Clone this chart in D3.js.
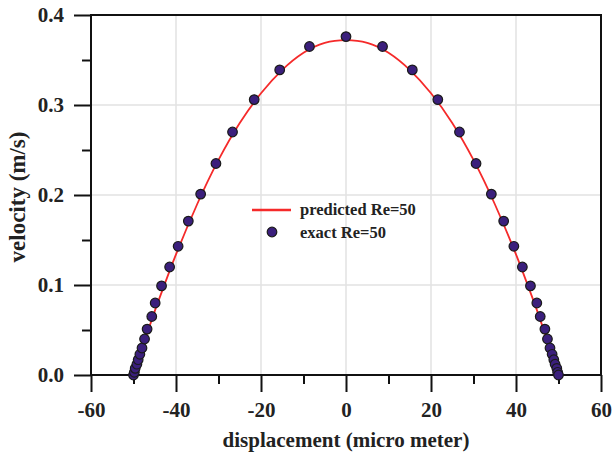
<!DOCTYPE html>
<html><head><meta charset="utf-8">
<script src="https://cdn.jsdelivr.net/npm/d3@7"></script>
<style>body{margin:0;background:#fff}svg{display:block}text{font-family:"Liberation Serif","Times New Roman",serif;font-weight:bold;fill:#222}</style>
</head><body><svg id="c" width="614" height="454"></svg>
<script>
// exact (symbols) data
const exactX = [-50,-49.8,-49.6,-49.2,-48.9,-48.5,-48.0,-47.4,-46.8,-45.7,-44.9,-43.4,-41.5,-39.5,-37.1,-34.2,-30.6,-26.7,-21.6,-15.6,-8.6,0,
                 8.6,15.6,21.6,26.7,30.6,34.2,37.1,39.5,41.5,43.4,44.9,45.7,46.8,47.4,48.0,48.5,48.9,49.2,49.6,49.8,50];
const exactV = [0,0.003,0.0074,0.012,0.017,0.023,0.030,0.040,0.051,0.065,0.080,0.099,0.120,0.143,0.171,0.201,0.235,0.270,0.306,0.339,0.365,0.376,
                 0.365,0.339,0.306,0.270,0.235,0.201,0.171,0.143,0.120,0.099,0.080,0.065,0.051,0.040,0.030,0.023,0.017,0.012,0.0074,0.003,0];
// predicted (line) data
const predX = [-50,-47.5,-45,-42.5,-40,-35,-30,-25,-20,-15,-10,-5,0,5,10,15,20,25,30,35,40,42.5,45,47.5,50];
const predV = [0,0.036,0.071,0.103,0.134,0.190,0.239,0.280,0.313,0.339,0.358,0.369,0.372,0.369,0.358,0.339,0.313,0.280,0.239,0.190,0.134,0.103,0.071,0.036,0];
const xTicks = [-60,-40,-20,0,20,40,60];
const yTicks = [0.0,0.1,0.2,0.3,0.4];
const xMinor = [-50,-30,-10,10,30,50];
const yMinor = [0.05,0.15,0.25,0.35];
const seriesNames = ["predicted Re=50","exact Re=50"];
const xTitle = "displacement (micro meter)";
const yTitle = "velocity (m/s)";

const L=91,R=601,T=15,B=375;
const svg=d3.select("#c");
const x=d3.scaleLinear().domain([-60,60]).range([L,R]);
const y=d3.scaleLinear().domain([0,0.4]).range([B,T]);

// grid
const g=svg.append("g");
g.selectAll("line.gx").data(xTicks.slice(1,-1)).join("line")
 .attr("x1",d=>x(d)).attr("x2",d=>x(d)).attr("y1",T).attr("y2",B)
 .attr("stroke","#e2e2e2").attr("stroke-width",1.5);
g.selectAll("line.gy").data(yTicks.slice(1,-1)).join("line")
 .attr("x1",L).attr("x2",R).attr("y1",d=>y(d)).attr("y2",d=>y(d))
 .attr("stroke","#e2e2e2").attr("stroke-width",1.5);

// axes
svg.append("g").attr("transform",`translate(0,${B})`)
 .call(d3.axisBottom(x).tickValues(xTicks).tickSize(17).tickPadding(10).tickFormat(d=>String(d)));
svg.append("g").attr("transform",`translate(0,${B})`)
 .call(d3.axisBottom(x).tickValues(xMinor).tickSize(9).tickFormat(""));
svg.append("g").attr("transform",`translate(${L},0)`)
 .call(d3.axisLeft(y).tickValues(yTicks).tickSize(17).tickPadding(10).tickFormat(d3.format(".1f")));
svg.append("g").attr("transform",`translate(${L},0)`)
 .call(d3.axisLeft(y).tickValues(yMinor).tickSize(9).tickFormat(""));
svg.selectAll(".domain").remove();
svg.selectAll(".tick line").attr("stroke","#111").attr("stroke-width",2);
svg.selectAll(".tick text").style("font-size","21px").attr("fill","#222");

// frame
svg.append("rect").attr("x",L).attr("y",T).attr("width",R-L).attr("height",B-T)
 .attr("fill","none").attr("stroke","#111").attr("stroke-width",2);

// line
const pts=predX.map((d,i)=>[d,predV[i]]);
svg.append("path").datum(pts)
 .attr("d",d3.line().x(d=>x(d[0])).y(d=>y(d[1])).curve(d3.curveNatural))
 .attr("fill","none").attr("stroke","#f52a2a").attr("stroke-width",1.8);

// points
svg.append("g").selectAll("circle").data(exactX.map((d,i)=>[d,exactV[i]])).join("circle")
 .attr("cx",d=>x(d[0])).attr("cy",d=>y(d[1])).attr("r",4.8)
 .attr("fill","#3b1f7c").attr("stroke","#1a1a1a").attr("stroke-width",1.2);

// titles
svg.append("text").attr("x",(L+R)/2).attr("y",447).attr("text-anchor","middle")
 .style("font-size","21px").text(xTitle);
svg.append("text").attr("transform",`translate(25,${(T+B)/2+2}) rotate(-90)`).attr("text-anchor","middle")
 .style("font-size","23px").text(yTitle);

// legend
const lg=svg.append("g");
lg.append("line").attr("x1",252).attr("x2",291).attr("y1",210).attr("y2",210)
 .attr("stroke","#f52a2a").attr("stroke-width",2.5);
lg.append("circle").attr("cx",272).attr("cy",232).attr("r",4.8)
 .attr("fill","#3b1f7c").attr("stroke","#1a1a1a").attr("stroke-width",1.2);
lg.append("text").attr("x",300).attr("y",215).style("font-size","16.5px").text(seriesNames[0]);
lg.append("text").attr("x",300).attr("y",238).style("font-size","16.5px").text(seriesNames[1]);
</script></body></html>
